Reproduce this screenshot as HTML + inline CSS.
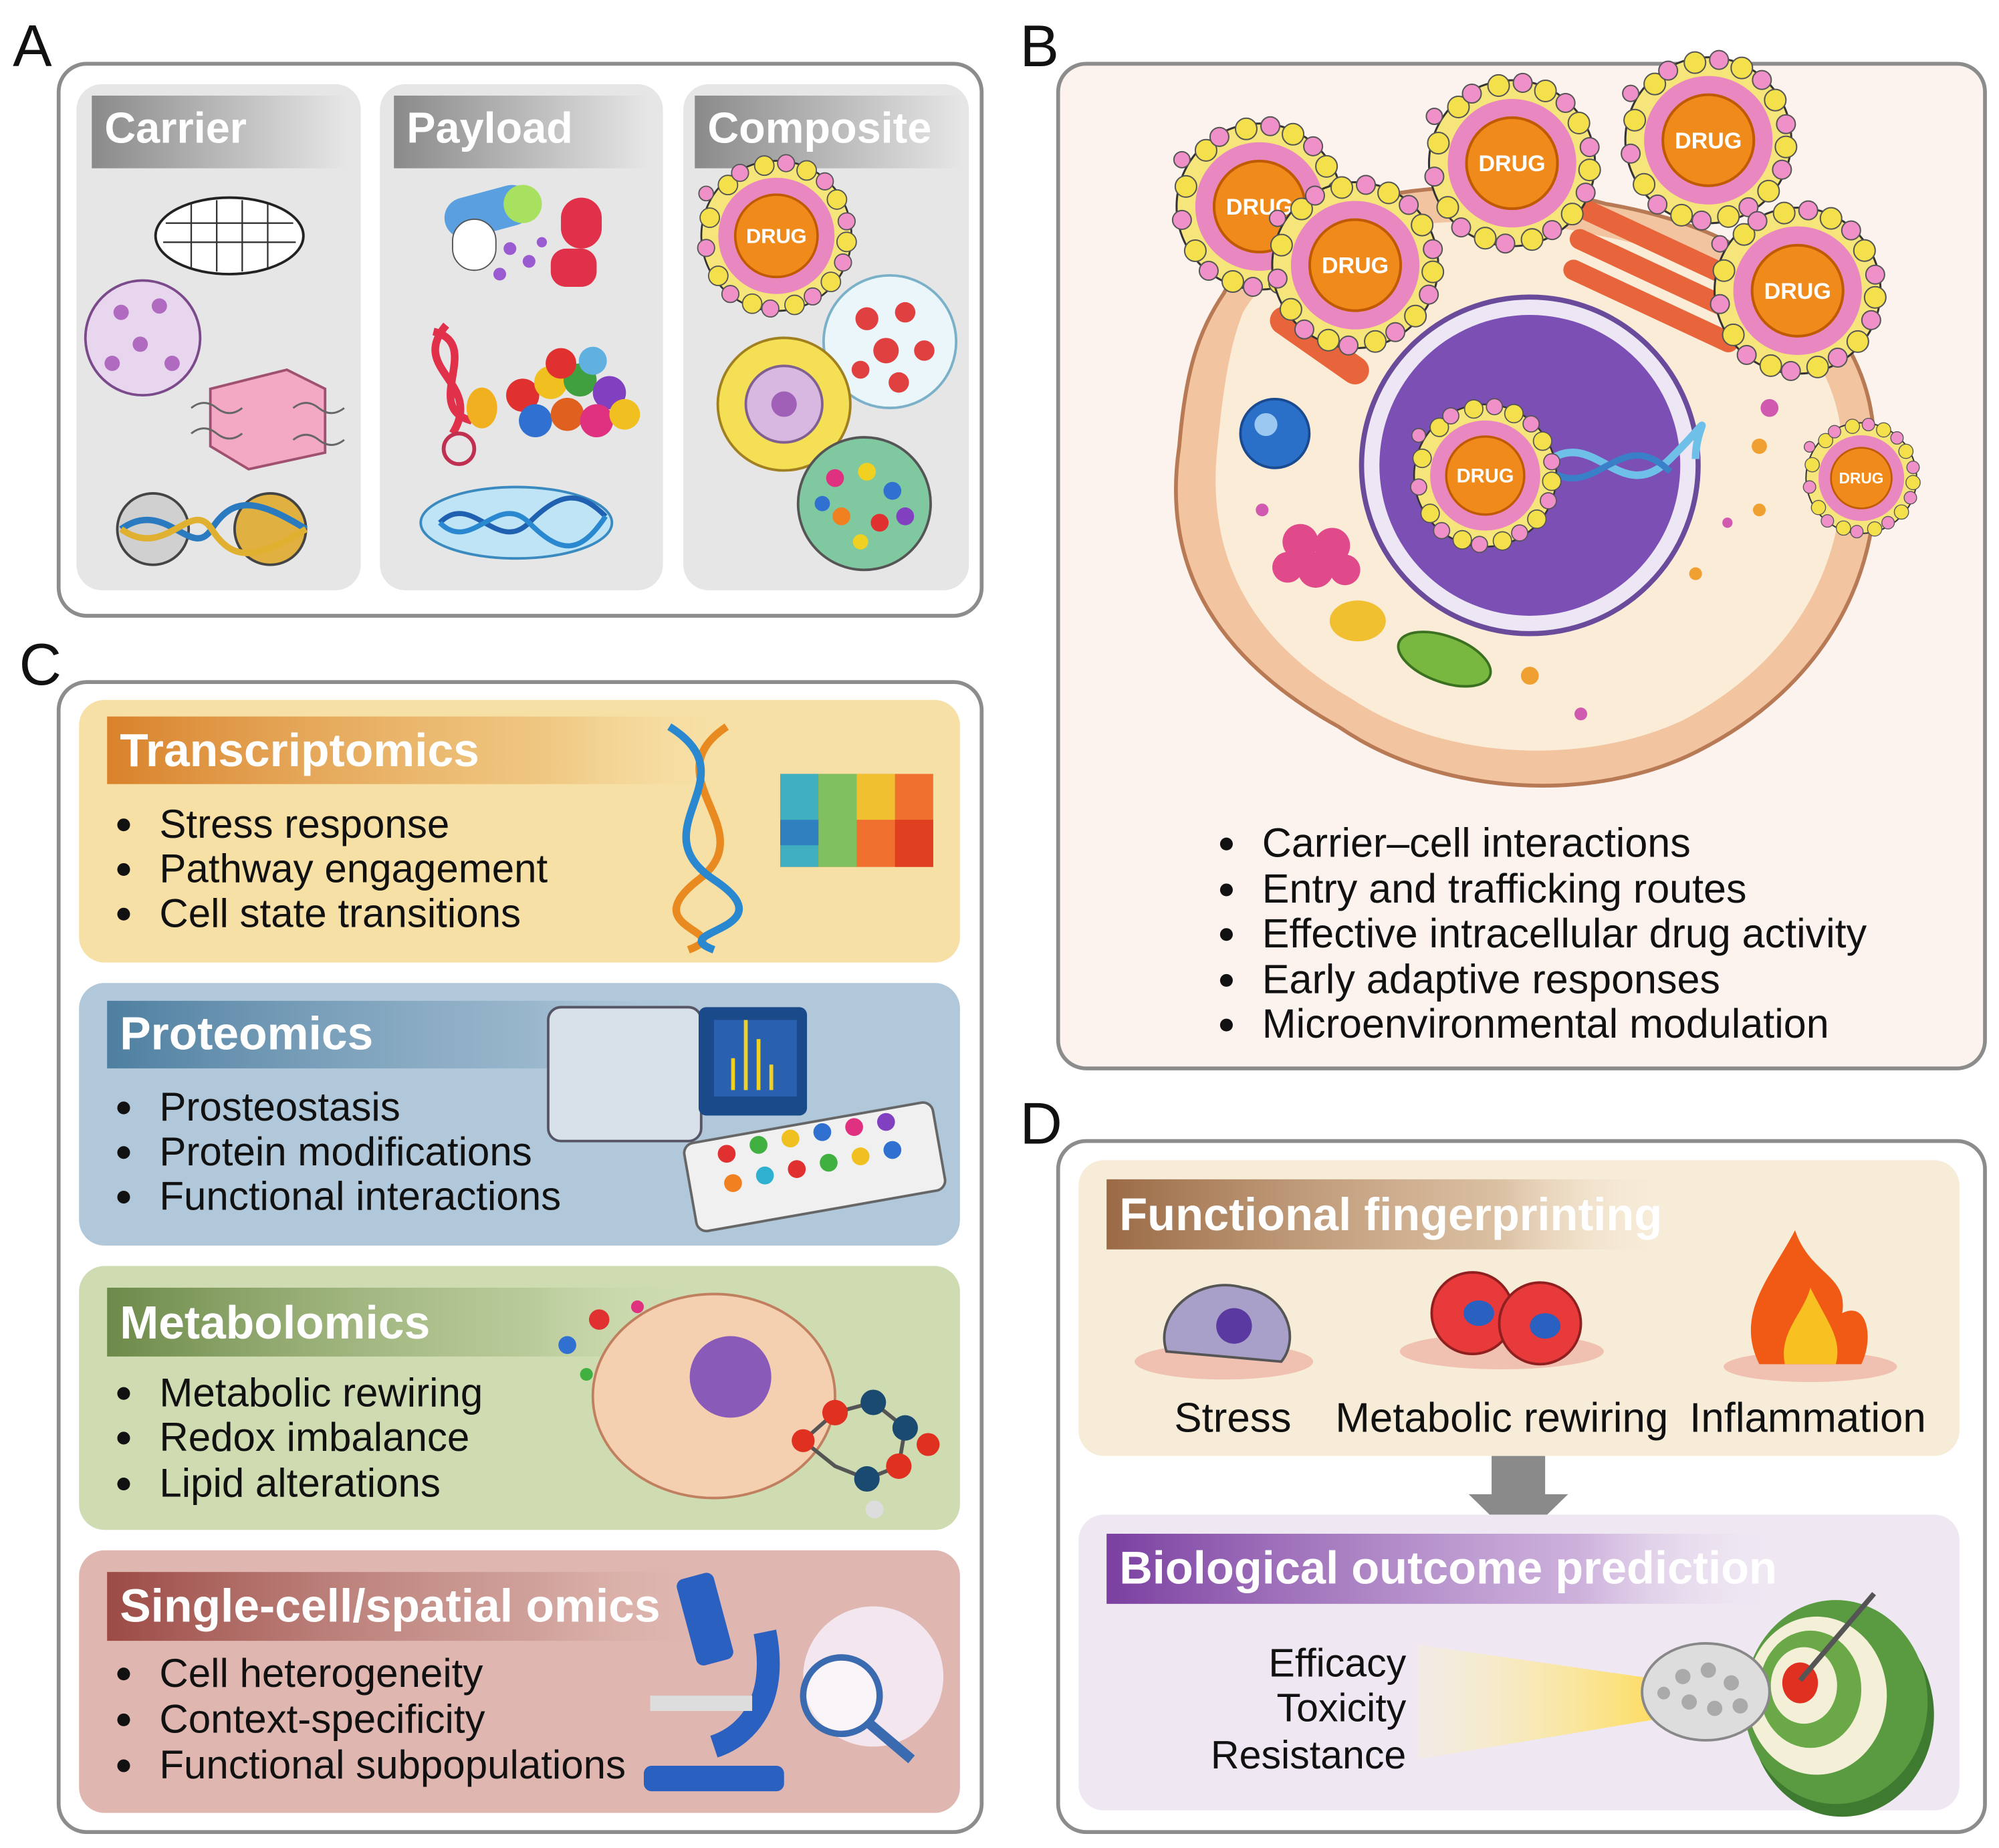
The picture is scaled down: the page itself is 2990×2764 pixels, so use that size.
<!DOCTYPE html>
<html><head><meta charset="utf-8"><style>
html,body{margin:0;padding:0;background:#fff;}
svg{display:block;font-family:"Liberation Sans",sans-serif;}
</style></head><body>
<svg width="2990" height="2764" viewBox="0 0 1568 1449.5" preserveAspectRatio="none" xmlns="http://www.w3.org/2000/svg">
<defs>
<linearGradient id="gh" x1="0" x2="1"><stop offset="0" stop-color="#8a8a8a"/><stop offset="1" stop-color="#8a8a8a" stop-opacity="0"/></linearGradient>
<linearGradient id="go" x1="0" x2="1"><stop offset="0" stop-color="#d9822b"/><stop offset="0.7" stop-color="#e8b060" stop-opacity="0.5"/><stop offset="1" stop-color="#f7e0a6" stop-opacity="0"/></linearGradient>
<linearGradient id="gb" x1="0" x2="1"><stop offset="0" stop-color="#4e7fa0"/><stop offset="0.7" stop-color="#7fa3bd" stop-opacity="0.5"/><stop offset="1" stop-color="#b0c8da" stop-opacity="0"/></linearGradient>
<linearGradient id="gg" x1="0" x2="1"><stop offset="0" stop-color="#6d8a4a"/><stop offset="0.7" stop-color="#a2b880" stop-opacity="0.5"/><stop offset="1" stop-color="#cfdcb2" stop-opacity="0"/></linearGradient>
<linearGradient id="gr" x1="0" x2="1"><stop offset="0" stop-color="#9c4a45"/><stop offset="0.7" stop-color="#c08a84" stop-opacity="0.5"/><stop offset="1" stop-color="#dfb7b0" stop-opacity="0"/></linearGradient>
<linearGradient id="gbr" x1="0" x2="1"><stop offset="0" stop-color="#9a6a45"/><stop offset="0.7" stop-color="#c8a27e" stop-opacity="0.6"/><stop offset="1" stop-color="#f7ecd8" stop-opacity="0"/></linearGradient>
<linearGradient id="gp" x1="0" x2="1"><stop offset="0" stop-color="#7a3fa0"/><stop offset="0.7" stop-color="#b68ccc" stop-opacity="0.6"/><stop offset="1" stop-color="#efe8f3" stop-opacity="0"/></linearGradient>
<linearGradient id="beam" x1="0" x2="1"><stop offset="0" stop-color="#fff6b0" stop-opacity="0.2"/><stop offset="1" stop-color="#ffd84a"/></linearGradient>
<g id="drug">
<circle r="62" fill="#f6e57a" stroke="#333" stroke-width="1.5"/>
<circle r="48" fill="#e987c0"/>
<circle r="34" fill="#f08a1a" stroke="#c05a00" stroke-width="2"/>
<text x="0" y="6" font-size="17" font-weight="bold" fill="#fff" text-anchor="middle">DRUG</text>
<g fill="#f3e04a" stroke="#555" stroke-width="1"><circle cx="-55" cy="-15" r="8"/><circle cx="-40" cy="-42" r="8"/><circle cx="-10" cy="-58" r="8"/><circle cx="25" cy="-54" r="8"/><circle cx="50" cy="-30" r="8"/><circle cx="58" cy="5" r="8"/><circle cx="45" cy="38" r="8"/><circle cx="15" cy="57" r="8"/><circle cx="-20" cy="56" r="8"/><circle cx="-48" cy="33" r="8"/></g>
<g fill="#f090c8" stroke="#555" stroke-width="1"><circle cx="-58" cy="10" r="7"/><circle cx="-30" cy="-52" r="7"/><circle cx="8" cy="-60" r="7"/><circle cx="40" cy="-45" r="7"/><circle cx="58" cy="-12" r="7"/><circle cx="55" cy="22" r="7"/><circle cx="30" cy="50" r="7"/><circle cx="-5" cy="60" r="7"/><circle cx="-38" cy="48" r="7"/><circle cx="-58" cy="-35" r="6"/></g>
</g>
</defs>

<g font-size="46" fill="#111">
<text x="10" y="52">A</text><text x="800" y="52">B</text><text x="15" y="537">C</text><text x="800" y="897">D</text>
</g>

<!-- PANEL A -->
<rect x="46" y="50" width="724" height="433" rx="22" fill="#fff" stroke="#8c8c8c" stroke-width="3"/>
<g>
<rect x="60" y="66" width="223" height="397" rx="20" fill="#e6e6e6"/>
<rect x="298" y="66" width="222" height="397" rx="20" fill="#e6e6e6"/>
<rect x="536" y="66" width="224" height="397" rx="20" fill="#e6e6e6"/>
<rect x="72" y="75" width="200" height="57" fill="url(#gh)"/>
<rect x="309" y="75" width="200" height="57" fill="url(#gh)"/>
<rect x="545" y="75" width="210" height="57" fill="url(#gh)"/>
<g font-size="34" font-weight="bold" fill="#fff"><text x="82" y="112">Carrier</text><text x="319" y="112">Payload</text><text x="555" y="112">Composite</text></g>
</g>
<ellipse cx="180" cy="185" rx="58" ry="30" fill="#fff" stroke="#222" stroke-width="2"/>
<path d="M130 175 L230 175 M128 190 L232 190 M150 160 L150 210 M170 157 L170 213 M190 157 L190 213 M210 160 L210 210" stroke="#333" stroke-width="1.2"/>
<circle cx="112" cy="265" r="45" fill="#e8d6ee" stroke="#7a4a8a" stroke-width="2"/>
<g fill="#b06ac0"><circle cx="95" cy="245" r="6"/><circle cx="125" cy="240" r="6"/><circle cx="110" cy="270" r="6"/><circle cx="135" cy="285" r="6"/><circle cx="88" cy="285" r="6"/></g>
<path d="M165 305 L225 290 L255 305 L255 355 L195 368 L165 350 Z" fill="#f3a8c4" stroke="#a05070" stroke-width="2"/>
<path d="M150 320 q10 -8 20 0 t20 0 M150 340 q10 -8 20 0 t20 0 M230 320 q10 -8 20 0 t20 0 M230 345 q10 -8 20 0 t20 0" stroke="#666" fill="none" stroke-width="1.5"/>
<circle cx="120" cy="415" r="28" fill="#d0d0d0" stroke="#444" stroke-width="2"/>
<circle cx="212" cy="415" r="28" fill="#e0b040" stroke="#444" stroke-width="2"/>
<path d="M95 415 C130 390 150 440 166 415 S200 390 240 415" stroke="#2a7ac0" stroke-width="5" fill="none"/>
<path d="M95 415 C130 440 150 390 166 415 S200 440 240 415" stroke="#e0b030" stroke-width="5" fill="none"/>
<rect x="348" y="150" width="70" height="32" rx="16" fill="#5aa0e0" transform="rotate(-15 383 166)"/>
<rect x="355" y="172" width="34" height="40" rx="17" fill="#fff" stroke="#555"/>
<rect x="395" y="145" width="30" height="30" rx="15" fill="#a8e060"/>
<rect x="440" y="155" width="32" height="40" rx="16" fill="#e0304a"/>
<rect x="432" y="195" width="36" height="30" rx="12" fill="#e0304a"/>
<g fill="#9a5ad0"><circle cx="400" cy="195" r="5"/><circle cx="415" cy="205" r="5"/><circle cx="392" cy="215" r="5"/><circle cx="425" cy="190" r="4"/></g>
<path d="M340 260 C380 270 330 320 370 330 M350 255 C320 290 380 300 355 340" stroke="#e0304a" stroke-width="6" fill="none"/>
<circle cx="360" cy="352" r="12" fill="none" stroke="#c03050" stroke-width="3"/>
<ellipse cx="378" cy="320" rx="12" ry="16" fill="#f0b020"/>
<g>
<circle cx="410" cy="310" r="13" fill="#e03030"/><circle cx="432" cy="300" r="13" fill="#f0c020"/><circle cx="455" cy="298" r="13" fill="#40a040"/><circle cx="478" cy="308" r="13" fill="#8040c0"/><circle cx="420" cy="330" r="13" fill="#3070d0"/><circle cx="445" cy="325" r="13" fill="#e06020"/><circle cx="468" cy="330" r="13" fill="#e03080"/><circle cx="490" cy="325" r="12" fill="#f0c020"/><circle cx="440" cy="285" r="12" fill="#e03030"/><circle cx="465" cy="283" r="11" fill="#60b0e0"/>
</g>
<ellipse cx="405" cy="410" rx="75" ry="28" fill="#bfe4f6" stroke="#3a8ac0" stroke-width="2"/>
<path d="M345 410 C370 385 390 435 415 410 S455 385 475 405" stroke="#2060b0" stroke-width="4" fill="none"/>
<path d="M345 410 C370 435 390 385 415 410 S455 435 475 405" stroke="#2a88d0" stroke-width="4" fill="none"/>
<use href="#drug" transform="translate(609 185) scale(0.95)"/>
<circle cx="698" cy="268" r="52" fill="#eaf6fa" stroke="#7ab0c8" stroke-width="2"/>
<g fill="#e04040"><circle cx="680" cy="250" r="9"/><circle cx="710" cy="245" r="8"/><circle cx="695" cy="275" r="10"/><circle cx="725" cy="275" r="8"/><circle cx="675" cy="290" r="7"/><circle cx="705" cy="300" r="8"/></g>
<circle cx="615" cy="317" r="52" fill="#f5e055" stroke="#a08020" stroke-width="2"/>
<circle cx="615" cy="317" r="30" fill="#d8b8e0" stroke="#806090" stroke-width="2"/>
<circle cx="615" cy="317" r="10" fill="#a060b8"/>
<circle cx="678" cy="395" r="52" fill="#80c8a0" stroke="#555" stroke-width="2"/>
<g><circle cx="655" cy="375" r="7" fill="#e03080"/><circle cx="680" cy="370" r="7" fill="#f0d020"/><circle cx="700" cy="385" r="7" fill="#3070d0"/><circle cx="660" cy="405" r="7" fill="#f08020"/><circle cx="690" cy="410" r="7" fill="#e03030"/><circle cx="710" cy="405" r="7" fill="#8040c0"/><circle cx="675" cy="425" r="6" fill="#f0d020"/><circle cx="645" cy="395" r="6" fill="#3070d0"/></g>

<!-- PANEL B -->
<rect x="830" y="50" width="727" height="788" rx="22" fill="#fdf3ee" stroke="#8c8c8c" stroke-width="3"/>
<path d="M960 230 C1000 150 1150 130 1260 160 C1380 180 1470 250 1470 350 C1480 450 1430 540 1330 590 C1250 630 1130 625 1050 570 C960 520 910 450 925 350 C930 290 940 260 960 230 Z" fill="#f2c4a0" stroke="#b77a55" stroke-width="3"/>
<path d="M975 245 C1015 175 1150 160 1255 185 C1365 205 1445 265 1445 355 C1450 445 1405 520 1320 565 C1245 600 1135 598 1060 548 C985 505 945 440 955 350 C960 300 965 270 975 245 Z" fill="#fbecd8"/>
<circle cx="1200" cy="365" r="132" fill="#ede6f4" stroke="#6a4a9a" stroke-width="4"/>
<circle cx="1200" cy="365" r="118" fill="#7c4fb4"/>
<path d="M1210 365 C1250 330 1270 400 1310 360 S1330 330 1330 360" stroke="#6fc0e8" stroke-width="6" fill="none"/>
<path d="M1210 365 C1250 400 1270 330 1310 370" stroke="#3a80c8" stroke-width="5" fill="none"/>
<use href="#drug" transform="translate(1165 373) scale(0.9)"/>
<circle cx="1000" cy="340" r="27" fill="#2a70c8" stroke="#1a4a90" stroke-width="2"/>
<circle cx="993" cy="333" r="9" fill="#9ac8f0"/>
<g fill="#e04a8a"><circle cx="1020" cy="425" r="14"/><circle cx="1045" cy="428" r="14"/><circle cx="1032" cy="447" r="14"/><circle cx="1055" cy="447" r="12"/><circle cx="1010" cy="445" r="12"/></g>
<ellipse cx="1065" cy="487" rx="22" ry="16" fill="#f0c030"/>
<ellipse cx="1133" cy="517" rx="38" ry="18" fill="#78b840" stroke="#3a7020" stroke-width="2" transform="rotate(20 1133 517)"/>
<rect x="990" y="260" width="90" height="22" rx="11" fill="#e8643a" transform="rotate(35 1035 271)"/>
<g fill="#e8643a"><rect x="1230" y="185" width="150" height="16" rx="8" transform="rotate(25 1305 193)"/><rect x="1225" y="208" width="150" height="16" rx="8" transform="rotate(25 1300 216)"/><rect x="1220" y="232" width="150" height="16" rx="8" transform="rotate(25 1295 240)"/></g>
<g fill="#f0a030"><circle cx="1165" cy="188" r="6"/><circle cx="1380" cy="350" r="6"/><circle cx="1330" cy="450" r="5"/><circle cx="1200" cy="530" r="7"/><circle cx="1100" cy="240" r="5"/><circle cx="1380" cy="400" r="5"/></g>
<g fill="#d05ab0"><circle cx="1388" cy="320" r="7"/><circle cx="1240" cy="560" r="5"/><circle cx="990" cy="400" r="5"/><circle cx="1355" cy="410" r="4"/></g>
<use href="#drug" transform="translate(988 162) scale(1.05)"/>
<use href="#drug" transform="translate(1063 208) scale(1.05)"/>
<use href="#drug" transform="translate(1186 128) scale(1.05)"/>
<use href="#drug" transform="translate(1340 110) scale(1.05)"/>
<use href="#drug" transform="translate(1410 228) scale(1.05)"/>
<use href="#drug" transform="translate(1460 375) scale(0.7)"/>
<g font-size="32" fill="#111">
<text x="990" y="672">Carrier–cell interactions</text>
<text x="990" y="708">Entry and trafficking routes</text>
<text x="990" y="743">Effective intracellular drug activity</text>
<text x="990" y="779">Early adaptive responses</text>
<text x="990" y="814">Microenvironmental modulation</text>
</g>
<g fill="#111"><circle cx="962" cy="662" r="5"/><circle cx="962" cy="698" r="5"/><circle cx="962" cy="733" r="5"/><circle cx="962" cy="769" r="5"/><circle cx="962" cy="804" r="5"/></g>

<!-- PANEL C -->
<rect x="46" y="535" width="724" height="902" rx="22" fill="#fff" stroke="#8c8c8c" stroke-width="3"/>
<rect x="62" y="549" width="691" height="206" rx="20" fill="#f7e0a6"/>
<rect x="62" y="771" width="691" height="206" rx="20" fill="#b0c8da"/>
<rect x="62" y="993" width="691" height="207" rx="20" fill="#cfdcb2"/>
<rect x="62" y="1216" width="691" height="206" rx="20" fill="#dfb7b0"/>
<rect x="84" y="562" width="500" height="53" fill="url(#go)"/>
<rect x="84" y="785" width="470" height="53" fill="url(#gb)"/>
<rect x="84" y="1010" width="470" height="54" fill="url(#gg)"/>
<rect x="84" y="1233" width="480" height="54" fill="url(#gr)"/>
<g font-size="36.5" font-weight="bold" fill="#fff">
<text x="94" y="601">Transcriptomics</text><text x="94" y="823">Proteomics</text><text x="94" y="1050">Metabolomics</text><text x="94" y="1272">Single-cell/spatial omics</text>
</g>
<g font-size="31.5" fill="#111">
<text x="125" y="657">Stress response</text><text x="125" y="692">Pathway engagement</text><text x="125" y="727">Cell state transitions</text>
<text x="125" y="879">Prosteostasis</text><text x="125" y="914">Protein modifications</text><text x="125" y="949">Functional interactions</text>
<text x="125" y="1103">Metabolic rewiring</text><text x="125" y="1138">Redox imbalance</text><text x="125" y="1174">Lipid alterations</text>
<text x="125" y="1323">Cell heterogeneity</text><text x="125" y="1359">Context-specificity</text><text x="125" y="1395">Functional subpopulations</text>
</g>
<g fill="#111">
<circle cx="97" cy="647" r="5"/><circle cx="97" cy="682" r="5"/><circle cx="97" cy="717" r="5"/>
<circle cx="97" cy="869" r="5"/><circle cx="97" cy="904" r="5"/><circle cx="97" cy="939" r="5"/>
<circle cx="97" cy="1093" r="5"/><circle cx="97" cy="1128" r="5"/><circle cx="97" cy="1164" r="5"/>
<circle cx="97" cy="1313" r="5"/><circle cx="97" cy="1349" r="5"/><circle cx="97" cy="1385" r="5"/>
</g>
<path d="M570 570 C510 610 600 650 548 690 S580 730 540 745" stroke="#e88a20" stroke-width="6" fill="none"/>
<path d="M525 570 C590 610 500 650 560 690 S520 730 560 745" stroke="#2a88d0" stroke-width="6" fill="none"/>
<g>
<rect x="612" y="607" width="120" height="73" fill="#f07030"/>
<rect x="612" y="607" width="30" height="73" fill="#40b0c0"/>
<rect x="642" y="607" width="30" height="73" fill="#80c060"/>
<rect x="672" y="607" width="30" height="36" fill="#f0c030"/>
<rect x="702" y="643" width="30" height="37" fill="#e04020"/>
<rect x="612" y="643" width="30" height="20" fill="#3080c0"/>
</g>
<rect x="430" y="790" width="120" height="105" rx="10" fill="#d8e0ea" stroke="#556" stroke-width="2"/>
<rect x="548" y="790" width="85" height="85" rx="6" fill="#1a4a8a"/>
<rect x="560" y="800" width="65" height="60" fill="#2a60b0"/>
<path d="M575 855 V830 M585 855 V800 M595 855 V815 M605 855 V835" stroke="#f0d020" stroke-width="3"/>
<rect x="540" y="880" width="198" height="70" rx="8" fill="#f0f0f0" stroke="#666" stroke-width="2" transform="rotate(-10 640 915)"/>
<g><circle cx="570" cy="905" r="7" fill="#e03030"/><circle cx="595" cy="898" r="7" fill="#40b040"/><circle cx="620" cy="893" r="7" fill="#f0c020"/><circle cx="645" cy="888" r="7" fill="#3070d0"/><circle cx="670" cy="884" r="7" fill="#e03080"/><circle cx="695" cy="880" r="7" fill="#8040c0"/><circle cx="575" cy="928" r="7" fill="#f08020"/><circle cx="600" cy="922" r="7" fill="#30b0d0"/><circle cx="625" cy="917" r="7" fill="#e03030"/><circle cx="650" cy="912" r="7" fill="#40b040"/><circle cx="675" cy="907" r="7" fill="#f0c020"/><circle cx="700" cy="902" r="7" fill="#3070d0"/></g>
<ellipse cx="560" cy="1095" rx="95" ry="80" fill="#f5d0b0" stroke="#c08060" stroke-width="2"/>
<circle cx="573" cy="1080" r="32" fill="#8a5ab8"/>
<g><circle cx="470" cy="1035" r="8" fill="#e03030"/><circle cx="445" cy="1055" r="7" fill="#3070d0"/><circle cx="500" cy="1025" r="5" fill="#e03080"/><circle cx="460" cy="1078" r="5" fill="#40b040"/></g>
<g stroke="#555" stroke-width="3"><path d="M630 1130 L655 1108 L685 1100 L710 1120 L705 1150 L680 1160 L655 1150 Z" fill="none"/></g>
<g><circle cx="655" cy="1108" r="10" fill="#e03020"/><circle cx="685" cy="1100" r="10" fill="#1a4a70"/><circle cx="710" cy="1120" r="10" fill="#1a4a70"/><circle cx="705" cy="1150" r="10" fill="#e03020"/><circle cx="680" cy="1160" r="10" fill="#1a4a70"/><circle cx="630" cy="1130" r="9" fill="#e03020"/><circle cx="728" cy="1133" r="9" fill="#e03020"/><circle cx="686" cy="1184" r="7" fill="#ddd"/></g>
<ellipse cx="685" cy="1315" rx="55" ry="55" fill="#f3e6ee"/>
<circle cx="660" cy="1330" r="30" fill="#fff" fill-opacity="0.6" stroke="#3a6ab0" stroke-width="5"/>
<path d="M682 1352 L715 1380" stroke="#3a6ab0" stroke-width="8"/>
<rect x="538" y="1235" width="30" height="70" rx="6" fill="#2a60c0" transform="rotate(-15 553 1270)"/>
<path d="M600 1280 C610 1330 590 1360 560 1370" stroke="#2a60c0" stroke-width="18" fill="none"/>
<rect x="510" y="1330" width="80" height="12" fill="#ddd"/>
<rect x="505" y="1385" width="110" height="20" rx="6" fill="#2a60c0"/>

<!-- PANEL D -->
<rect x="830" y="895" width="727" height="542" rx="22" fill="#fff" stroke="#8c8c8c" stroke-width="3"/>
<rect x="846" y="910" width="691" height="232" rx="20" fill="#f7ecd8"/>
<rect x="868" y="925" width="440" height="55" fill="url(#gbr)"/>
<text x="878" y="965" font-size="36" font-weight="bold" fill="#fff">Functional fingerprinting</text>
<ellipse cx="960" cy="1068" rx="70" ry="14" fill="#f0c0b0"/>
<path d="M915 1060 C905 1030 940 1000 975 1010 C1010 1015 1020 1050 1005 1068 Z" fill="#a8a0c8" stroke="#555" stroke-width="2"/>
<circle cx="968" cy="1040" r="14" fill="#5a3aa0"/>
<ellipse cx="1178" cy="1060" rx="80" ry="14" fill="#f0c0b0"/>
<circle cx="1155" cy="1030" r="32" fill="#e83a3a" stroke="#902020" stroke-width="2"/>
<circle cx="1208" cy="1038" r="32" fill="#e83a3a" stroke="#902020" stroke-width="2"/>
<ellipse cx="1160" cy="1030" rx="12" ry="10" fill="#2a60c0"/><ellipse cx="1212" cy="1040" rx="12" ry="10" fill="#2a60c0"/>
<ellipse cx="1420" cy="1072" rx="68" ry="12" fill="#f0c0b0"/>
<path d="M1380 1070 C1360 1030 1390 1000 1408 965 C1420 1000 1450 1000 1445 1030 C1465 1020 1470 1050 1460 1070 Z" fill="#f05a14"/>
<path d="M1400 1070 C1395 1045 1415 1030 1420 1010 C1435 1040 1445 1050 1440 1070 Z" fill="#f8c020"/>
<g font-size="32.4" fill="#111" text-anchor="middle"><text x="967" y="1123">Stress</text><text x="1178" y="1123">Metabolic rewiring</text><text x="1418" y="1123">Inflammation</text></g>
<path d="M1170 1142 H1212 V1172 H1230 L1191 1210 L1152 1172 H1170 Z" fill="#8a8a8a"/>
<rect x="846" y="1188" width="691" height="232" rx="20" fill="#efe8f3"/>
<rect x="868" y="1203" width="530" height="55" fill="url(#gp)"/>
<text x="878" y="1242" font-size="36" font-weight="bold" fill="#fff">Biological outcome prediction</text>
<g font-size="31" fill="#111" text-anchor="end"><text x="1103" y="1315">Efficacy</text><text x="1103" y="1350">Toxicity</text><text x="1103" y="1387">Resistance</text></g>
<path d="M1112 1290 L1320 1320 L1320 1345 L1112 1380 Z" fill="url(#beam)"/>
<ellipse cx="1445" cy="1345" rx="72" ry="80" fill="#3e7a30"/>
<ellipse cx="1440" cy="1335" rx="72" ry="80" fill="#5a9a40"/>
<ellipse cx="1425" cy="1330" rx="55" ry="62" fill="#f4f0d8"/>
<ellipse cx="1420" cy="1325" rx="40" ry="46" fill="#6aa848"/>
<ellipse cx="1415" cy="1322" rx="26" ry="30" fill="#f4f0d8"/>
<ellipse cx="1412" cy="1320" rx="14" ry="16" fill="#e03020"/>
<path d="M1412 1318 L1470 1250" stroke="#555" stroke-width="4"/>
<ellipse cx="1338" cy="1327" rx="50" ry="38" fill="#ddd" stroke="#888" stroke-width="2"/>
<g fill="#aaa"><circle cx="1320" cy="1315" r="6"/><circle cx="1340" cy="1310" r="6"/><circle cx="1358" cy="1320" r="6"/><circle cx="1325" cy="1335" r="6"/><circle cx="1345" cy="1340" r="6"/><circle cx="1365" cy="1338" r="6"/><circle cx="1305" cy="1328" r="5"/></g>
</svg>
</body></html>
